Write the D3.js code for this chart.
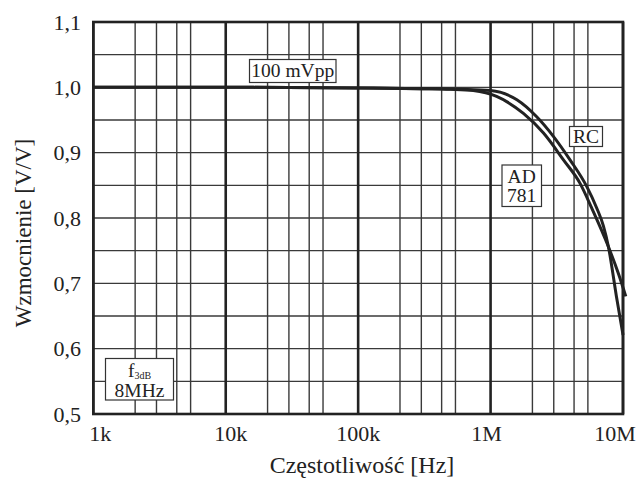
<!DOCTYPE html>
<html>
<head>
<meta charset="utf-8">
<script src="https://cdn.jsdelivr.net/npm/d3@7"></script>
<style>
  body { margin: 0; background: #fff; }
  text { font-family: "Liberation Serif", "DejaVu Serif", serif; fill: #222; }
</style>
</head>
<body>
<svg width="640" height="478"></svg>
<script>
// dane
const freqTicks = [1e3, 1e4, 1e5, 1e6, 1e7];
const freqLabels = ["1k", "10k", "100k", "1M", "10M"];
const minorMult = [2.07, 3, 4.27, 5.43];
const gainTicks = [0.5, 0.6, 0.7, 0.8, 0.9, 1.0, 1.1];
const gainLabels = ["0,5", "0,6", "0,7", "0,8", "0,9", "1,0", "1,1"];

// krzywa RC (zewnetrzna, stroma na koncu)
const rcFreq = [1e3, 1e4, 1e5, 3e5, 6e5, 1e6, 1.58e6, 2.23e6, 2.98e6, 3.98e6, 5.33e6, 6.34e6, 7.11e6, 7.76e6, 8.92e6, 1e7];
const rcGain = [1.0, 1.0, 0.999, 0.998, 0.997, 0.995, 0.981, 0.955, 0.925, 0.889, 0.848, 0.815, 0.788, 0.756, 0.68, 0.621];

// krzywa AD781
const adFreq = [1e3, 1e4, 1e5, 3e5, 5e5, 7.4e5, 1.11e6, 1.77e6, 2.51e6, 3.55e6, 4.74e6, 5.81e6, 7.76e6, 9.23e6, 1.05e7];
const adGain = [1.0, 1.0, 0.999, 0.998, 0.997, 0.995, 0.986, 0.960, 0.930, 0.889, 0.853, 0.815, 0.756, 0.715, 0.68];

const svg = d3.select("svg");
const x0 = 93.3, x1 = 623, y0 = 414, y1 = 22;

const xScale = d3.scaleLog().domain([1e3, 1e7]).range([x0, x1]);
const yScale = d3.scaleLinear().domain([0.5, 1.1]).range([y0, y1]);

// siatka pozioma co 0.05
const hGrid = d3.range(0, 13).map(i => 0.5 + i * 0.05);
svg.append("g").selectAll("line")
  .data(hGrid)
  .join("line")
  .attr("x1", x0).attr("x2", x1)
  .attr("y1", d => yScale(d)).attr("y2", d => yScale(d))
  .attr("stroke", "#3a3a3a")
  .attr("stroke-width", 1.4);

// siatka pionowa - linie pomocnicze
const minor = [];
freqTicks.slice(0, -1).forEach(f => minorMult.forEach(m => minor.push(f * m)));
svg.append("g").selectAll("line")
  .data(minor)
  .join("line")
  .attr("x1", d => xScale(d)).attr("x2", d => xScale(d))
  .attr("y1", y0).attr("y2", y1)
  .attr("stroke", "#3a3a3a")
  .attr("stroke-width", 1.4);

// dekady - grubsze
svg.append("g").selectAll("line")
  .data(freqTicks)
  .join("line")
  .attr("x1", d => xScale(d)).attr("x2", d => xScale(d))
  .attr("y1", y0).attr("y2", y1)
  .attr("stroke", "#222")
  .attr("stroke-width", 2.6);

// ramka
svg.append("rect")
  .attr("x", x0).attr("y", y1)
  .attr("width", x1 - x0).attr("height", y0 - y1)
  .attr("fill", "none")
  .attr("stroke", "#222")
  .attr("stroke-width", 2.6);

// krzywe
const line = d3.line()
  .x(d => xScale(d[0]))
  .y(d => yScale(d[1]))
  .curve(d3.curveMonotoneX);

svg.append("path")
  .datum(rcFreq.map((f, i) => [f, rcGain[i]]))
  .attr("d", line)
  .attr("fill", "none")
  .attr("stroke", "#222")
  .attr("stroke-width", 3);

svg.append("path")
  .datum(adFreq.map((f, i) => [f, adGain[i]]))
  .attr("d", line)
  .attr("fill", "none")
  .attr("stroke", "#222")
  .attr("stroke-width", 3);

// etykiety osi Y
svg.append("g").selectAll("text")
  .data(gainTicks)
  .join("text")
  .attr("x", 81)
  .attr("y", d => yScale(d))
  .attr("dy", "0.35em")
  .attr("text-anchor", "end")
  .attr("font-size", "22px")
  .text((d, i) => gainLabels[i]);

// etykiety osi X
const xShift = [7, 5, 0, -4, -8];
svg.append("g").selectAll("text")
  .data(freqTicks)
  .join("text")
  .attr("x", (d, i) => xScale(d) + xShift[i])
  .attr("y", 441)
  .attr("text-anchor", "middle")
  .attr("font-size", "22px")
  .text((d, i) => freqLabels[i]);

// tytuly osi
svg.append("text")
  .attr("x", 362)
  .attr("y", 473)
  .attr("text-anchor", "middle")
  .attr("font-size", "24px")
  .text("Częstotliwość [Hz]");

svg.append("text")
  .attr("transform", "translate(31, 233) rotate(-90)")
  .attr("text-anchor", "middle")
  .attr("font-size", "23px")
  .text("Wzmocnienie [V/V]");

// ramki z opisami
function labelBox(x, y, w, h) {
  svg.append("rect")
    .attr("x", x).attr("y", y)
    .attr("width", w).attr("height", h)
    .attr("fill", "#fff")
    .attr("stroke", "#333")
    .attr("stroke-width", 1.2);
}

labelBox(249.5, 59.5, 86.5, 23);
svg.append("text").attr("x", 292.7).attr("y", 77).attr("text-anchor", "middle")
  .attr("font-size", "19.5px").text("100 mVpp");

labelBox(569.5, 126.5, 33, 20);
svg.append("text").attr("x", 586).attr("y", 143).attr("text-anchor", "middle")
  .attr("font-size", "19.5px").text("RC");

labelBox(502, 165, 39.5, 41.5);
svg.append("text").attr("x", 521.7).attr("y", 182.5).attr("text-anchor", "middle")
  .attr("font-size", "19.5px").text("AD");
svg.append("text").attr("x", 521.7).attr("y", 202).attr("text-anchor", "middle")
  .attr("font-size", "19.5px").text("781");

labelBox(105.5, 358.5, 68, 41.5);
const f3 = svg.append("text").attr("x", 139.5).attr("y", 377).attr("text-anchor", "middle")
  .attr("font-size", "19.5px");
f3.append("tspan").text("f");
f3.append("tspan").attr("font-size", "10px").attr("dy", 2).text("3dB");
svg.append("text").attr("x", 139.5).attr("y", 397).attr("text-anchor", "middle")
  .attr("font-size", "19.5px").text("8MHz");
</script>
</body>
</html>
